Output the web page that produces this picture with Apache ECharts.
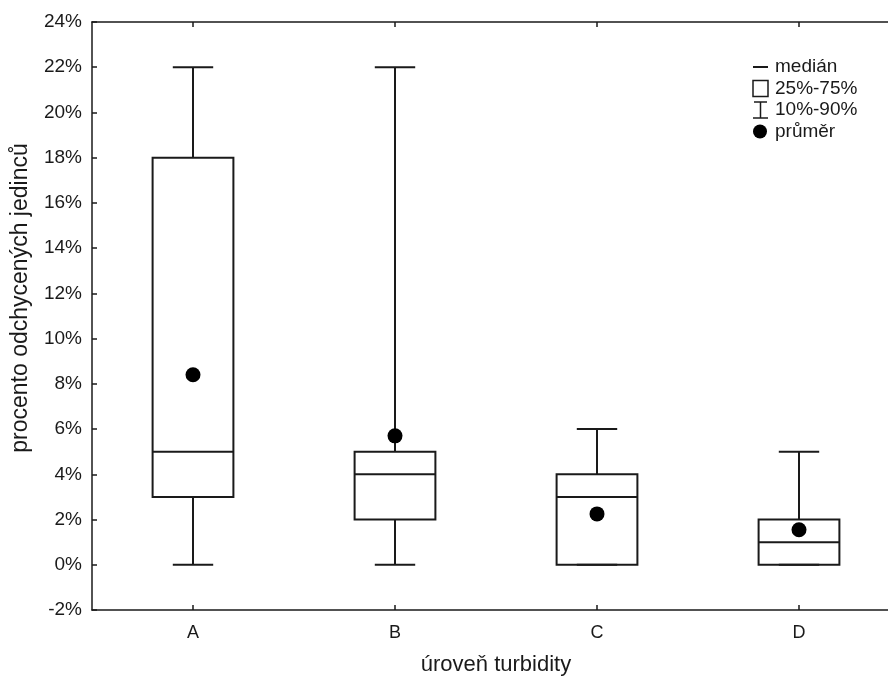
<!DOCTYPE html>
<html>
<head>
<meta charset="utf-8">
<script src="https://cdn.jsdelivr.net/npm/echarts@6/dist/echarts.min.js"></script>
<style>html,body{margin:0;padding:0;background:#fff;}#c{width:888px;height:677px;}</style>
</head>
<body>
<div id="c"></div>
<script>
var categories = ['A', 'B', 'C', 'D'];
var p10 = [0, 0, 0, 0];
var p25 = [3, 2, 0, 0];
var medians = [5, 4, 3, 1];
var p75 = [18, 5, 4, 2];
var p90 = [22, 22, 6, 5];
var means = [8.4, 5.7, 2.25, 1.55];
var yTicks = { min: -2, max: 24, interval: 2 };
var legendLabels = ['medián', '25%-75%', '10%-90%', 'průměr'];
var xTitle = 'úroveň turbidity';
var yTitle = 'procento odchycených jedinců';

var FONT = '"Liberation Sans", Arial, sans-serif';
var INK = '#1a1a1a';

var boxData = categories.map(function (c, i) {
  return [i, p10[i], p25[i], medians[i], p75[i], p90[i]];
});
var meanData = categories.map(function (c, i) { return [i, means[i]]; });

function renderBox(params, api) {
  var i = api.value(0);
  var lo = api.coord([i, api.value(1)]);
  var q1 = api.coord([i, api.value(2)]);
  var md = api.coord([i, api.value(3)]);
  var q3 = api.coord([i, api.value(4)]);
  var hi = api.coord([i, api.value(5)]);
  var band = api.size([1, 0])[0];
  var bw = band * 0.4, cw = band * 0.2;
  var x = lo[0];
  var st = { stroke: INK, lineWidth: 2, fill: null };
  var children = [
    { type: 'line', shape: { x1: x, y1: hi[1], x2: x, y2: q3[1] }, style: st },
    { type: 'line', shape: { x1: x, y1: q1[1], x2: x, y2: lo[1] }, style: st },
    { type: 'line', shape: { x1: x - cw / 2, y1: hi[1], x2: x + cw / 2, y2: hi[1] }, style: st },
    { type: 'line', shape: { x1: x - cw / 2, y1: lo[1], x2: x + cw / 2, y2: lo[1] }, style: st },
    { type: 'rect', shape: { x: x - bw / 2, y: q3[1], width: bw, height: q1[1] - q3[1] }, style: { stroke: INK, lineWidth: 2, fill: 'rgba(0,0,0,0)' } },
    { type: 'line', shape: { x1: x - bw / 2, y1: md[1], x2: x + bw / 2, y2: md[1] }, style: st }
  ];
  return { type: 'group', children: children };
}

var legendX = 753, legendY = 67, rowH = 21.5;
var lg = [];
legendLabels.forEach(function (t, k) {
  lg.push({ type: 'text', x: 775, y: legendY + k * rowH, style: { text: t, font: '19px ' + FONT, fill: INK, verticalAlign: 'middle', align: 'left' } });
});
var cy = function (k) { return legendY + k * rowH; };
lg.push({ type: 'line', shape: { x1: legendX, y1: cy(0), x2: legendX + 15, y2: cy(0) }, style: { stroke: INK, lineWidth: 2 } });
lg.push({ type: 'rect', shape: { x: legendX, y: cy(1) - 8, width: 15, height: 16 }, style: { stroke: INK, lineWidth: 1.5, fill: '#fff' } });
lg.push({ type: 'line', shape: { x1: legendX + 1, y1: cy(2) - 8, x2: legendX + 14, y2: cy(2) - 8 }, style: { stroke: INK, lineWidth: 1.5 } });
lg.push({ type: 'line', shape: { x1: legendX + 7.5, y1: cy(2) - 8, x2: legendX + 7.5, y2: cy(2) + 8 }, style: { stroke: INK, lineWidth: 1.5 } });
lg.push({ type: 'line', shape: { x1: legendX, y1: cy(2) + 8, x2: legendX + 15, y2: cy(2) + 8 }, style: { stroke: INK, lineWidth: 1.5 } });
lg.push({ type: 'circle', shape: { cx: legendX + 7, cy: cy(3), r: 7 }, style: { fill: '#000' } });
lg.push({ type: 'text', x: 21, y: 298, rotation: Math.PI / 2, style: { text: yTitle, font: '23px ' + FONT, fill: INK, align: 'center', verticalAlign: 'middle' } });

var tickStyle = { color: INK, width: 1.5 };
var chart = echarts.init(document.getElementById('c'), null, { renderer: 'canvas' });
chart.setOption({
  animation: false,
  backgroundColor: '#fff',
  textStyle: { fontFamily: FONT },
  grid: { left: 92, top: 22, width: 808, bottom: 67, containLabel: false, outerBoundsMode: 'none' },
  xAxis: [{
    type: 'category', data: categories, position: 'bottom', boundaryGap: true,
    axisLine: { onZero: false, lineStyle: { color: INK, width: 1.5 } },
    axisTick: { show: true, inside: true, alignWithLabel: true, length: 5, lineStyle: tickStyle },
    axisLabel: { color: INK, fontSize: 18, margin: 14, fontFamily: FONT },
    name: xTitle, nameLocation: 'middle', nameGap: 44,
    nameTextStyle: { color: INK, fontSize: 22, fontFamily: FONT },
    splitLine: { show: false }
  }, {
    type: 'category', data: categories, position: 'top', boundaryGap: true,
    axisLine: { onZero: false, lineStyle: { color: INK, width: 1.5 } },
    axisTick: { show: true, inside: true, alignWithLabel: true, length: 5, lineStyle: tickStyle },
    axisLabel: { show: false }, splitLine: { show: false }
  }],
  yAxis: {
    type: 'value', min: yTicks.min, max: yTicks.max, interval: yTicks.interval,
    axisLine: { show: true, onZero: false, lineStyle: { color: INK, width: 1.5 } },
    axisTick: { show: true, inside: true, length: 5, lineStyle: tickStyle },
    axisLabel: { inside: false, color: INK, fontSize: 19, margin: 10, formatter: '{value}%', fontFamily: FONT },
    splitLine: { show: false }
  },
  series: [{
    type: 'custom', renderItem: renderBox, data: boxData, encode: { x: 0, y: [1, 2, 3, 4, 5] }, z: 2
  }, {
    type: 'scatter', data: meanData, symbol: 'circle', symbolSize: 15,
    itemStyle: { color: '#000', opacity: 1 }, z: 3
  }],
  graphic: lg
});
</script>
</body>
</html>
